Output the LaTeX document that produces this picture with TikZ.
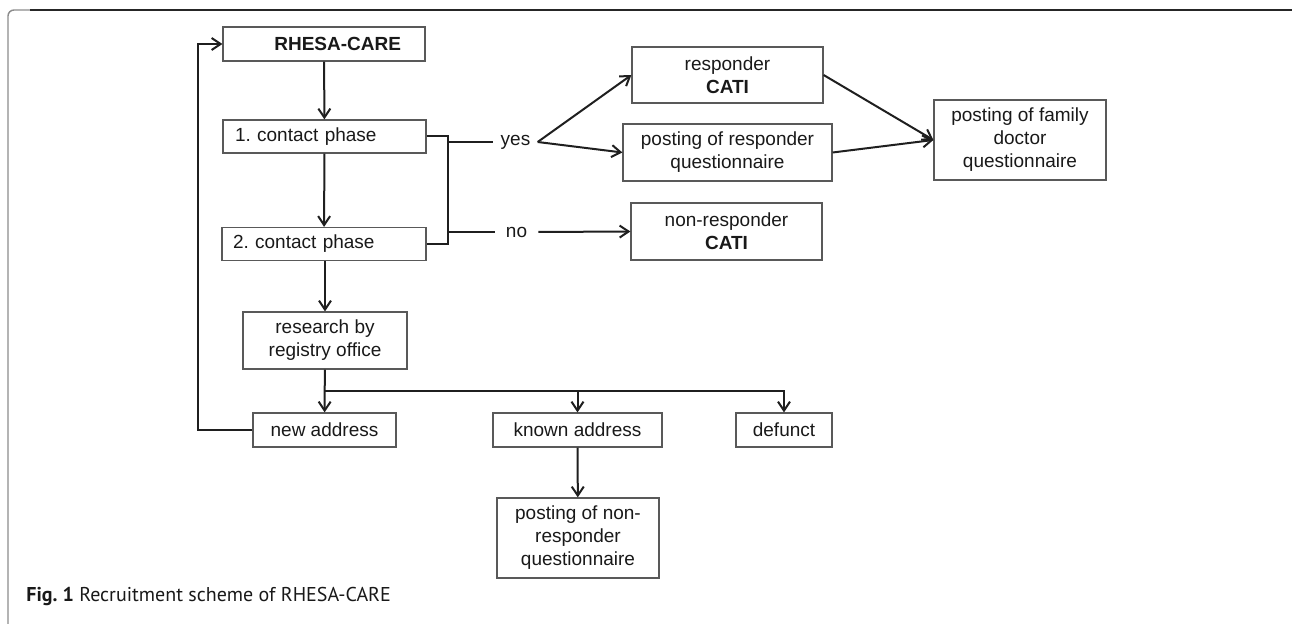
\documentclass[tikz,border=0pt]{standalone}
\usepackage{fontspec}
\setmainfont{Liberation Sans}
\newfontfamily\capfont{PT Sans}
\usetikzlibrary{arrows.meta}
\frenchspacing

\begin{document}
\begin{tikzpicture}[x = 0.5pt, y = -0.5pt,
  box/.style = {draw = black!65, line width = 0.6pt, inner sep = 0pt, text = black!90,
    font = \fontsize{9.5}{11.5}\selectfont},
  conn/.style = {draw = black!88, line width = 1pt},
  arr/.style = {conn, -{Straight Barb[length = 4.5pt, width = 6pt]}},
  answer/.style = {inner xsep = 3.5pt, inner ysep = 2pt, text = black!90,
    font = \fontsize{9.5}{11.5}\selectfont}]
\useasboundingbox (0,0) rectangle (1292,624);

% frame of the figure
\draw [black!45, line width = 0.7pt, rounded corners = 3pt] (8,624) -- (8,10) -- (40,10);
\draw [black!85, line width = 0.7pt] (30,10) -- (1292,10);

% left column
\node [box, text width = 77pt, inner xsep = 12pt, align = right, minimum height = 17pt](boxrhesa) at (324,44){\textbf{RHESA-CARE}};
\node [box, text width = 89.5pt, inner xsep = 6pt, align = left, minimum height = 16.5pt](boxcontact1) at (324.5,136.5){1. contact phase};
\node [box, text width = 91pt, inner xsep = 5.5pt, align = left, minimum height = 16.5pt](boxcontact2) at (324,244){2. contact phase};
\node [box, align = center, minimum width = 82pt, minimum height = 28.5pt](boxresearch) at (325,340.5){research by\\registry office};
\node [box, align = center, minimum width = 71.5pt, minimum height = 17pt](boxnew) at (324.5,430){new address};
\node [box, align = center, minimum width = 84.5pt, minimum height = 17pt](boxknown) at (577.5,430){known address};
\node [box, align = center, minimum width = 48pt, minimum height = 17pt](boxdefunct) at (784,430){defunct};
\node [box, align = center, minimum width = 81pt, minimum height = 40pt](boxnonpost) at (578,538){posting of non-\\responder\\questionnaire};

% right part
\node [answer](textyes) at (515.5,142){yes};
\node [answer, inner xsep = 5.5pt](textno) at (516.5,232){no};
\node [box, align = center, minimum width = 95.5pt, minimum height = 28pt](boxresp) at (727.5,75){responder\\\textbf{CATI}};
\node [box, align = center, minimum width = 104.5pt, minimum height = 28.5pt](boxresppost) at (727.5,152.5){posting of responder\\questionnaire};
\node [box, align = center, minimum width = 95.5pt, minimum height = 28.5pt](boxnonresp) at (726.5,231.5){non-responder\\\textbf{CATI}};
\node [box, align = center, minimum width = 86pt, minimum height = 40pt](boxfamily) at (1020,140){posting of family\\doctor\\questionnaire};

% caption
\node [anchor = west, inner sep = 0pt, text = black!90, font = \capfont\fontsize{10}{12}\selectfont](caption) at (26,597){\textbf{Fig. 1} Recruitment scheme of RHESA-CARE};

% connectors
\coordinate (bracex) at (448,190);
\coordinate (split) at (325,391.5);
\coordinate (back) at (198,44);
\draw [arr] (boxrhesa) -- (boxcontact1);
\draw [arr] (boxcontact1) -- (boxcontact2);
\draw [arr] (boxcontact2.south -| boxresearch) -- (boxresearch);
\draw [conn] (boxcontact1.east) -| (bracex) |- (boxcontact2.east);
\draw [conn] (bracex |- textyes) -- (textyes.west);
\draw [conn] (bracex |- textno) -- (textno.west);
\draw [arr] (textyes.east) -- (boxresp.west);
\draw [arr] (textyes.east) -- (boxresppost.west);
\draw [arr] (textno.east) -- (boxnonresp.west);
\draw [arr] (boxresp.east) -- (boxfamily.west);
\draw [arr] (boxresppost.east) -- (boxfamily.west);
\draw [arr] (boxresearch) -- (boxnew);
\draw [arr] (split) -| (boxknown.north);
\draw [arr] (split) -| (boxdefunct.north);
\draw [arr] (boxknown) -- (boxnonpost);
\draw [arr] (boxnew.west) -| (back) -- (boxrhesa.west);

\end{tikzpicture}
\end{document}
